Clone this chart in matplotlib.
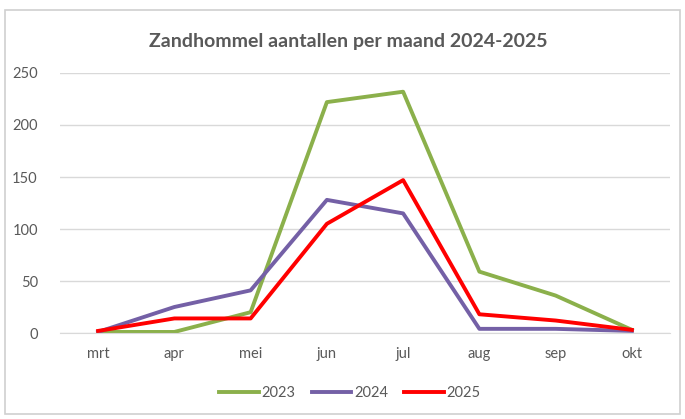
import matplotlib.pyplot as plt
from matplotlib.patches import Rectangle

months = ["mrt", "apr", "mei", "jun", "jul", "aug", "sep", "okt"]
y2023 = [1, 1, 20, 222, 232, 59, 36, 3]
y2024 = [1, 25, 41, 128, 115, 4, 4, 2]
y2025 = [2, 14, 14, 105, 147, 18, 12, 3]

plt.rcParams['font.family'] = ['Lato', 'DejaVu Sans']
txt = '#595959'

fig = plt.figure(figsize=(6.85, 4.19), dpi=100)
fig.patches.append(Rectangle((5 / 685, 5 / 419), 675 / 685, 404 / 419,
                             transform=fig.transFigure, fill=False,
                             edgecolor='#D0D0D0', linewidth=1.2))

ax = fig.add_axes([60 / 685, 86 / 419, 610 / 685, 260 / 419])
x = range(len(months))
ax.plot(x, y2023, color='#8BB04B', linewidth=2.8, label='2023')
ax.plot(x, y2024, color='#7460A6', linewidth=2.8, label='2024')
ax.plot(x, y2025, color='#FF0000', linewidth=2.8, label='2025')

ax.set_xlim(-0.5, len(months) - 0.5)
ax.set_ylim(0, 250)
ax.set_yticks(range(0, 251, 50))
ax.set_xticks(list(x))
ax.set_xticklabels(months)
ax.grid(axis='y', color='#D9D9D9', linewidth=1)
ax.set_axisbelow(True)
for s in ['top', 'right', 'left']:
    ax.spines[s].set_visible(False)
ax.spines['bottom'].set_color('#D9D9D9')
ax.tick_params(length=0, colors=txt, labelsize=10.5)
ax.tick_params(axis='y', pad=16)
ax.tick_params(axis='x', pad=10)

fig.text(348 / 685, 1 - 42 / 419, "Zandhommel aantallen per maand 2024-2025",
         ha='center', va='center', fontsize=14, fontweight='bold', color=txt)

fig.legend(loc='center', bbox_to_anchor=(350 / 685, 1 - 393 / 419), ncol=3,
           frameon=False, fontsize=10.5, labelcolor=txt, handlelength=2.7,
           handletextpad=0.2, columnspacing=1.1)

fig.savefig('out.png', dpi=100)
